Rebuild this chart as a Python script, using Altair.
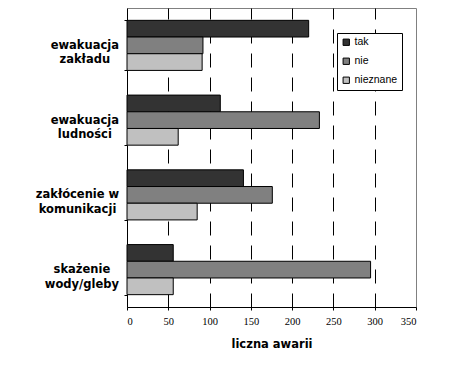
import altair as alt
import pandas as pd

categories = ["ewakuacja|zakładu", "ewakuacja|ludności", "zakłócenie w|komunikacji", "skażenie|wody/gleby"]
series = ["tak", "nie", "nieznane"]
tak = [220, 113, 141, 56]
nie = [92, 233, 176, 295]
nieznane = [91, 62, 85, 56]
colors = ["#333333", "#808080", "#C0C0C0"]
x_ticks = [0, 50, 100, 150, 200, 250, 300, 350]

rows = []
for i, c in enumerate(categories):
    for s, vals in zip(series, [tak, nie, nieznane]):
        rows.append({"kat": c, "seria": s, "wartosc": vals[i]})
df = pd.DataFrame(rows)

label_padding = {
    "condition": [
        {"test": "datum.value === 'zakłócenie w|komunikacji'", "value": 47},
        {"test": "datum.value === 'skażenie|wody/gleby'", "value": 42.6},
    ],
    "value": 39.7,
}

chart = alt.Chart(df).mark_bar(stroke="black", strokeWidth=1).encode(
    x=alt.X("wartosc:Q",
            scale=alt.Scale(domain=[0, 350], nice=False),
            axis=alt.Axis(values=x_ticks, title="liczna awarii",
                          grid=True, gridColor="black", gridDash=[14, 10], gridWidth=1,
                          gridOpacity=alt.condition("datum.value === 0 || datum.value === 350",
                                                    alt.value(0), alt.value(1)),
                          domainColor="black", tickColor="black", tickSize=3,
                          labelFont="Liberation Sans Narrow", labelFontSize=10.5, labelColor="black",
                          labelPadding=6,
                          titleFont="DejaVu Sans", titleFontSize=11.5, titleFontWeight="bold",
                          titleColor="black", titlePadding=12)),
    y=alt.Y("kat:N", sort=categories,
            scale=alt.Scale(paddingInner=0.33, paddingOuter=0.165),
            axis=alt.Axis(title=None, grid=False, tickBand="extent",
                          domainColor="black", tickColor="black", tickSize=3,
                          labelExpr="split(datum.label, '|')",
                          labelAlign="center", labelBaseline="middle",
                          labelPadding=label_padding,
                          labelFont="DejaVu Sans", labelFontSize=11.5, labelFontWeight="bold",
                          labelColor="black", labelLineHeight=14.5)),
    yOffset=alt.YOffset("seria:N", sort=series, scale=alt.Scale(paddingInner=0, paddingOuter=0)),
    color=alt.Color("seria:N", sort=series,
                    scale=alt.Scale(domain=series, range=colors),
                    legend=alt.Legend(title=None, orient="none", legendX=210, legendY=25,
                                      symbolType="square", symbolSize=40,
                                      symbolStrokeColor="black", symbolStrokeWidth=1,
                                      labelFont="Liberation Sans", labelFontSize=10.5,
                                      labelColor="black", labelOffset=3,
                                      rowPadding=8, padding=4,
                                      strokeColor="black", fillColor="white")),
).properties(
    width=289, height=299,
    autosize=alt.AutoSizeParams(type="none"),
    padding={"left": 119, "top": 0, "right": 33, "bottom": 52},
).configure_view(
    stroke="#808080", strokeWidth=1
).configure_legend(
    strokeColor="black", strokeWidth=1
)

chart.save("out.html", embed_options={"renderer": "svg", "actions": False})
